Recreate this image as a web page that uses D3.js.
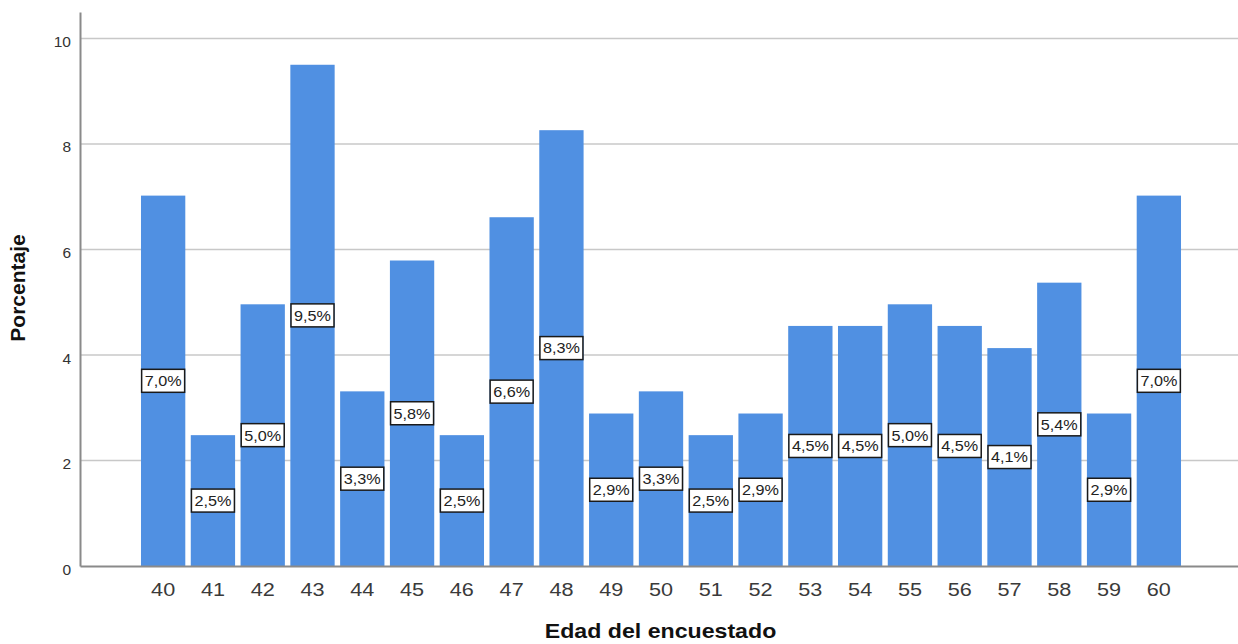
<!DOCTYPE html>
<html>
<head>
<meta charset="utf-8">
<script src="https://cdn.jsdelivr.net/npm/d3@7"></script>
<style>
  html, body { margin: 0; padding: 0; background: #fff; }
  svg { display: block; font-family: "Liberation Sans", Arial, sans-serif; }
</style>
</head>
<body>
<svg id="chart" width="1238" height="644"></svg>
<script>
// Data
const ages = ["40","41","42","43","44","45","46","47","48","49","50","51","52","53","54","55","56","57","58","59","60"];
const percents = [7.02, 2.48, 4.96, 9.50, 3.31, 5.79, 2.48, 6.61, 8.26, 2.89, 3.31, 2.48, 2.89, 4.55, 4.55, 4.96, 4.55, 4.13, 5.37, 2.89, 7.02];
const labels = ["7,0%","2,5%","5,0%","9,5%","3,3%","5,8%","2,5%","6,6%","8,3%","2,9%","3,3%","2,5%","2,9%","4,5%","4,5%","5,0%","4,5%","4,1%","5,4%","2,9%","7,0%"];
const yTicks = [0, 2, 4, 6, 8, 10];
const xTitle = "Edad del encuestado";
const yTitle = "Porcentaje";

(function () {
const svg = d3.select("#chart");
const W = 1238;
const mLeft = 80, mBottom = 566, mTop = 12;

const x = d3.scaleBand().domain(ages).range([mLeft, 1242]).paddingInner(0.11).paddingOuter(1.225);
const y = d3.scaleLinear().domain([0, 10.5]).range([mBottom, mTop]);

// gridlines
svg.append("g").selectAll("line").data(yTicks.filter(d => d > 0)).join("line")
  .attr("x1", mLeft).attr("x2", W)
  .attr("y1", d => y(d)).attr("y2", d => y(d))
  .attr("stroke", "#c8c8c8").attr("stroke-width", 1.5);

// bars
svg.append("g").selectAll("rect").data(ages).join("rect")
  .attr("x", d => x(d))
  .attr("width", x.bandwidth())
  .attr("y", (d, i) => y(percents[i]))
  .attr("height", (d, i) => y(0) - y(percents[i]))
  .attr("fill", "#5090e2");

// y axis
const yAxis = svg.append("g").attr("transform", `translate(${mLeft},0)`)
  .call(d3.axisLeft(y).tickValues(yTicks).tickSize(0).tickPadding(9).tickFormat(d3.format("d")));
yAxis.select(".domain").attr("stroke", "#8a8a8a").attr("stroke-width", 2);
yAxis.selectAll("text").attr("font-size", 15.5).attr("fill", "#333").attr("dy", "0.52em");

// x axis
const xAxis = svg.append("g").attr("transform", `translate(0,${mBottom})`)
  .call(d3.axisBottom(x).tickSize(0).tickPadding(0));
xAxis.select(".domain").attr("stroke", "#8a8a8a").attr("stroke-width", 2);
xAxis.selectAll("text").attr("font-size", 19).attr("fill", "#3a3a3a")
  .attr("y", 30.5).attr("dy", 0).attr("transform", "scale(1.14,1)");

// value labels
const lab = svg.append("g").selectAll("g").data(ages).join("g")
  .attr("transform", (d, i) => `translate(${x(d) + x.bandwidth() / 2},${y(percents[i] / 2)})`);
lab.append("rect")
  .attr("x", -21.5).attr("y", -11.5).attr("width", 43).attr("height", 23)
  .attr("fill", "#fff").attr("stroke", "#1a1a1a").attr("stroke-width", 1.5);
lab.append("text")
  .text((d, i) => labels[i])
  .attr("text-anchor", "middle").attr("dy", "0.36em")
  .attr("font-size", 15).attr("fill", "#222")
  .attr("transform", "scale(1.08,1)");

// titles
svg.append("text")
  .attr("transform", `translate(660.5,638.3) scale(1.13,1)`)
  .attr("text-anchor", "middle").attr("font-size", 20.5).attr("font-weight", "bold").attr("fill", "#111")
  .text(xTitle);
svg.append("text")
  .attr("transform", `translate(25,288) rotate(-90)`)
  .attr("text-anchor", "middle").attr("font-size", 21).attr("font-weight", "bold").attr("fill", "#111")
  .text(yTitle);
})();
</script>
</body>
</html>
